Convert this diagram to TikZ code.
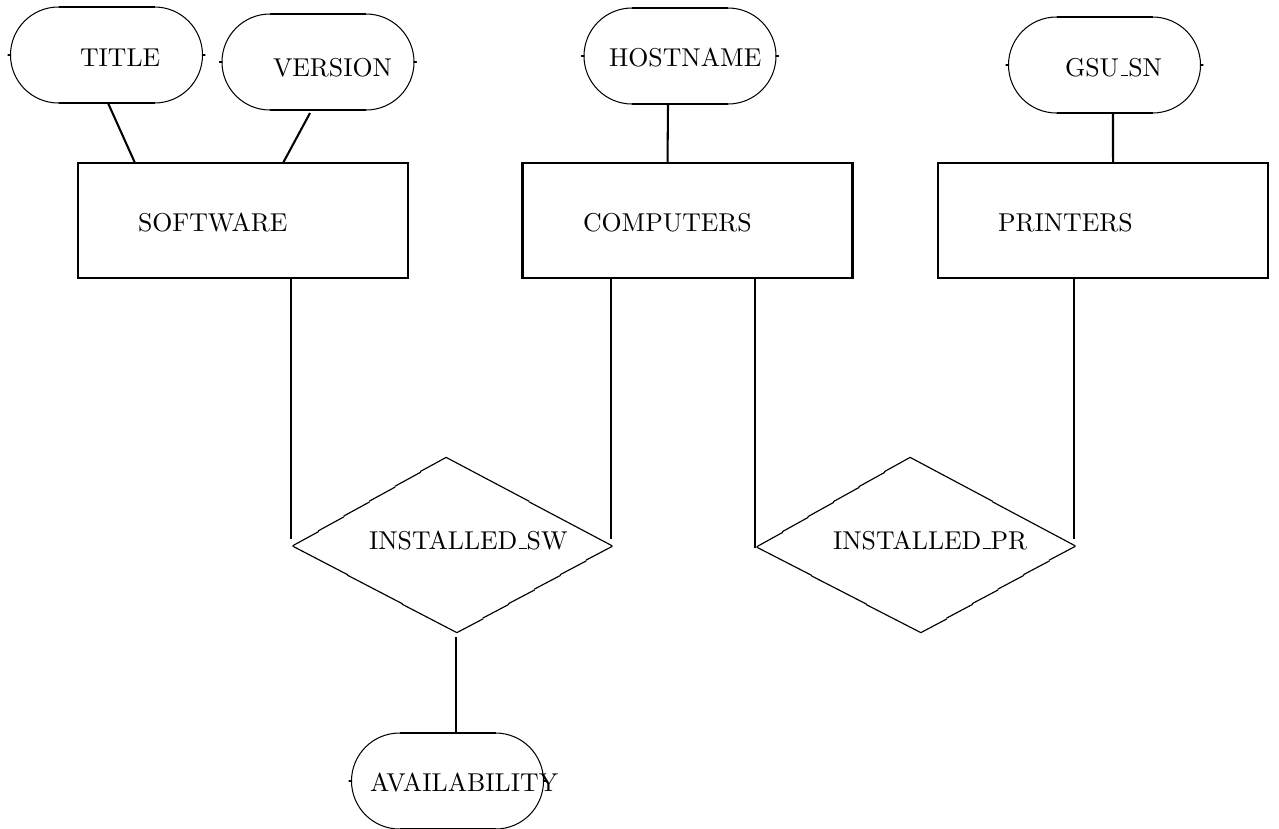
\documentclass[tikz,border=0pt]{standalone}
\usetikzlibrary{calc}

% one drawing unit
\newcommand\pxu{0.3876pt}
% classic underscore: a short rule on the baseline
\newcommand\uscore{\leavevmode\kern.06em\vbox{\hrule width.3em}}
% stepped diagonal edge: from, to, number of pieces, start offset, end offset
\newcommand\jagedge[5]{%
  \foreach \ji [evaluate=\ji as \ja using (\ji-1)/#3,
                evaluate=\ji as \jb using \ji/#3] in {1,...,#3} {
    \draw[diag] ($(#1)!\ja!(#2)+(0,#4)$) -- ($(#1)!\jb!(#2)+(0,#5)$);
  }%
}

\begin{document}
\begin{tikzpicture}[x=\pxu, y=-\pxu,
  every node/.style={inner sep=0pt, outer sep=0pt},
  entity/.style={draw, line width=0.8pt, rectangle,
                 minimum width=127.9pt, minimum height=44.57pt},
  attrib/.style={draw, line width=0.4pt, rectangle, rounded corners=18.6pt,
                 minimum width=74.42pt, minimum height=37.21pt},
  conn/.style={line width=0.8pt},
  diag/.style={line width=0.45pt, line cap=round},
  lbl/.style={anchor=base west, font=\normalsize}]

\useasboundingbox (0,0) rectangle (1279,828);

% attributes
\node[attrib] (title)    at (106.5,55) {};
\node[attrib] (version)  at (318,62)   {};
\node[attrib] (hostname) at (680,56)   {};
\node[attrib] (gsusn)    at (1104.5,65) {};
\node[attrib] (avail)    at (447.5,781) {};
\foreach \n in {title,version,hostname,gsusn,avail} {
  \draw[conn] ($(\n.north west)+(48,0)$) -- ($(\n.north east)+(-48,0)$);
  \draw[conn] ($(\n.south west)+(48,0)$) -- ($(\n.south east)+(-48,0)$);
  \draw[diag] (\n.west) -- ++(-2.5,0);
  \draw[diag] (\n.east) -- ++(2.5,0);
}

% entities
\node[entity] (software)  at (243,220.5)   {};
\node[entity] (computers) at (687.5,220.5) {};
\node[entity] (printers)  at (1103,220.5)  {};

% relationships
\coordinate (swL) at (293,546);
\coordinate (swT) at (446,457);
\coordinate (swR) at (612,546);
\coordinate (swB) at (457,633);
\coordinate (prL) at (757,547);
\coordinate (prT) at (910,457);
\coordinate (prR) at (1075,546);
\coordinate (prB) at (921,633);

\jagedge{swL}{swT}{6}{-0.45}{0.45}
\jagedge{swT}{swR}{2}{0.3}{-0.3}
\jagedge{swB}{swR}{6}{-0.45}{0.45}
\jagedge{swL}{swB}{3}{0.3}{-0.3}
\jagedge{prL}{prT}{6}{-0.45}{0.45}
\jagedge{prT}{prR}{2}{0.3}{-0.3}
\jagedge{prB}{prR}{6}{-0.45}{0.45}
\jagedge{prL}{prB}{3}{0.3}{-0.3}

% labels
\node[lbl] (titletxt)   at (80,66)   {TITLE};
\node[lbl] (versiontxt) at (273,76)  {VERSION};
\node[lbl] (hosttxt)    at (609,66)  {HOSTNAME};
\node[lbl] (gsutxt)     at (1065,76) {GSU\uscore SN};
\node[lbl] (availtxt)   at (370,791) {AVAILABILITY};
\node[lbl] (softtxt)    at (138,231) {SOFTWARE};
\node[lbl] (comptxt)    at (583,231) {COMPUTERS};
\node[lbl] (printtxt)   at (998,231) {PRINTERS};
\node[lbl] (swtxt)      at (369,549) {INSTALLED\uscore SW};
\node[lbl] (prtxt)      at (833,549) {INSTALLED\uscore PR};

% connector ends at the relationships
\coordinate (swin1) at (291,539);
\coordinate (swin2) at (611,539);
\coordinate (prin1) at (755,548);
\coordinate (prin2) at (1074,539);
\coordinate (swout) at (456,637);

% attribute links
\draw[conn] ($(title.south)+(1.5,0)$) -- ($(software.north west)+(57,0)$);
\draw[conn] ($(version.south)+(-8,3)$) -- ($(software.north west)+(205,0)$);
\draw[conn] ($(hostname.south)+(-12,0)$) -- ($(computers.north west)+(145,0)$);
\draw[conn] ($(gsusn.south)+(8.5,0)$) -- ($(printers.north west)+(175,0)$);

% relationship links
\draw[conn] (software.south -| swin1) -- (swin1);
\draw[conn] (computers.south -| swin2) -- (swin2);
\draw[conn] (computers.south -| prin1) -- (prin1);
\draw[conn] (printers.south -| prin2) -- (prin2);
\draw[conn] (swout) -- (avail.north -| swout);
\end{tikzpicture}
\end{document}
